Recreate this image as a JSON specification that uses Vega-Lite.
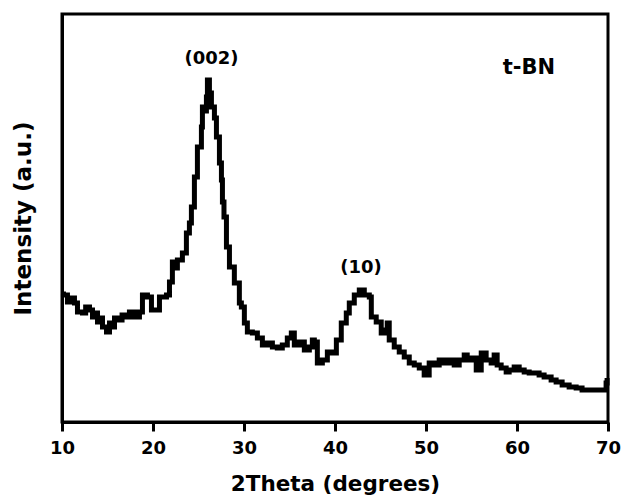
{
  "$schema": "https://vega.github.io/schema/vega-lite/v6.json",
  "autosize": "none",
  "width": 546,
  "height": 408,
  "padding": {"left": 62, "top": 14, "right": 15, "bottom": 74},
  "background": "white",
  "config": {
    "view": {"stroke": "black", "strokeWidth": 3},
    "font": "DejaVu Sans"
  },
  "datasets": {
    "xrd": [
      {"t": 10.0, "i": 128}, {"t": 10.16, "i": 127}, {"t": 10.6, "i": 120}, {"t": 11.0, "i": 124}, {"t": 11.37, "i": 119},
      {"t": 11.7, "i": 110}, {"t": 12.25, "i": 109}, {"t": 12.6, "i": 115}, {"t": 13.02, "i": 112},
      {"t": 13.35, "i": 105}, {"t": 13.6, "i": 109}, {"t": 13.9, "i": 100}, {"t": 14.2, "i": 104}, {"t": 14.45, "i": 95},
      {"t": 14.89, "i": 90}, {"t": 15.22, "i": 99}, {"t": 15.5, "i": 95}, {"t": 15.77, "i": 104}, {"t": 16.32, "i": 102},
      {"t": 16.6, "i": 107}, {"t": 16.87, "i": 105}, {"t": 17.41, "i": 110}, {"t": 17.96, "i": 105},
      {"t": 18.51, "i": 110}, {"t": 18.84, "i": 127}, {"t": 19.39, "i": 125}, {"t": 19.83, "i": 112},
      {"t": 20.38, "i": 112}, {"t": 20.71, "i": 125}, {"t": 21.48, "i": 127}, {"t": 21.81, "i": 140},
      {"t": 22.13, "i": 160}, {"t": 22.4, "i": 154}, {"t": 22.68, "i": 162}, {"t": 23.23, "i": 169},
      {"t": 23.67, "i": 189}, {"t": 24.0, "i": 199}, {"t": 24.22, "i": 215}, {"t": 24.55, "i": 245},
      {"t": 24.88, "i": 275}, {"t": 25.32, "i": 295}, {"t": 25.43, "i": 315}, {"t": 25.6, "i": 311},
      {"t": 25.87, "i": 325}, {"t": 25.98, "i": 342}, {"t": 26.2, "i": 329}, {"t": 26.42, "i": 315},
      {"t": 26.75, "i": 304}, {"t": 26.97, "i": 285}, {"t": 27.3, "i": 259}, {"t": 27.52, "i": 242},
      {"t": 27.63, "i": 220}, {"t": 27.8, "i": 205}, {"t": 28.07, "i": 175}, {"t": 28.4, "i": 155},
      {"t": 28.94, "i": 139}, {"t": 29.49, "i": 119}, {"t": 29.71, "i": 115}, {"t": 30.04, "i": 99},
      {"t": 30.37, "i": 90}, {"t": 30.92, "i": 89}, {"t": 31.47, "i": 84}, {"t": 32.02, "i": 77},
      {"t": 32.57, "i": 79}, {"t": 33.12, "i": 75}, {"t": 33.66, "i": 74}, {"t": 34.21, "i": 77},
      {"t": 34.76, "i": 84}, {"t": 35.2, "i": 89}, {"t": 35.53, "i": 77}, {"t": 36.08, "i": 80},
      {"t": 36.63, "i": 72}, {"t": 37.18, "i": 75}, {"t": 37.51, "i": 82}, {"t": 37.73, "i": 80},
      {"t": 38.06, "i": 59}, {"t": 38.61, "i": 62}, {"t": 39.16, "i": 70}, {"t": 39.71, "i": 69},
      {"t": 40.15, "i": 82}, {"t": 40.69, "i": 99}, {"t": 41.24, "i": 109}, {"t": 41.57, "i": 119},
      {"t": 42.12, "i": 127}, {"t": 42.67, "i": 132}, {"t": 43.22, "i": 127}, {"t": 43.77, "i": 125},
      {"t": 43.99, "i": 105}, {"t": 44.53, "i": 100}, {"t": 45.08, "i": 89}, {"t": 45.5, "i": 92},
      {"t": 45.74, "i": 99}, {"t": 45.96, "i": 82}, {"t": 46.51, "i": 75}, {"t": 47.06, "i": 70},
      {"t": 47.61, "i": 65}, {"t": 48.16, "i": 59}, {"t": 48.71, "i": 57}, {"t": 49.26, "i": 54},
      {"t": 49.8, "i": 47}, {"t": 50.35, "i": 59}, {"t": 50.9, "i": 57}, {"t": 51.45, "i": 62},
      {"t": 52.0, "i": 59}, {"t": 52.55, "i": 62}, {"t": 53.1, "i": 57}, {"t": 53.65, "i": 62},
      {"t": 54.2, "i": 67}, {"t": 54.53, "i": 62}, {"t": 55.08, "i": 64}, {"t": 55.52, "i": 52},
      {"t": 56.07, "i": 69}, {"t": 56.61, "i": 62}, {"t": 57.16, "i": 59}, {"t": 57.49, "i": 67},
      {"t": 57.82, "i": 57}, {"t": 58.26, "i": 54}, {"t": 58.81, "i": 50}, {"t": 59.14, "i": 52},
      {"t": 59.69, "i": 55}, {"t": 60.24, "i": 52}, {"t": 60.79, "i": 50}, {"t": 61.34, "i": 49},
      {"t": 61.88, "i": 49}, {"t": 62.43, "i": 47}, {"t": 62.98, "i": 45}, {"t": 63.75, "i": 42},
      {"t": 64.3, "i": 40}, {"t": 64.96, "i": 37}, {"t": 65.73, "i": 35}, {"t": 66.5, "i": 34},
      {"t": 67.15, "i": 32}, {"t": 67.92, "i": 32}, {"t": 68.69, "i": 32}, {"t": 69.35, "i": 32},
      {"t": 69.79, "i": 39}, {"t": 69.9, "i": 44}
    ],
    "labels": [
      {"t": 26.43, "i": 363, "label": "(002)", "s": 18},
      {"t": 42.85, "i": 154, "label": "(10)", "s": 18},
      {"t": 61.3, "i": 354, "label": "t-BN", "s": 21}
    ]
  },
  "layer": [
    {
      "data": {"name": "xrd"},
      "mark": {"type": "line", "color": "black", "strokeWidth": 5, "strokeJoin": "miter", "interpolate": "step-after"},
      "encoding": {
        "x": {
          "field": "t", "type": "quantitative",
          "scale": {"domain": [10, 70], "nice": false, "zero": false},
          "axis": {
            "title": "2Theta (degrees)", "values": [10, 20, 30, 40, 50, 60, 70],
            "grid": false, "domainColor": "black", "domainWidth": 3,
            "tickColor": "black", "tickWidth": 3, "tickSize": 9,
            "labelFont": "DejaVu Sans", "labelFontWeight": "bold", "labelFontSize": 18,
            "labelColor": "black", "labelPadding": 8, "labelFlush": false,
            "titleFont": "DejaVu Sans", "titleFontWeight": "bold", "titleFontSize": 21.5,
            "titleColor": "black", "titlePadding": 16
          }
        },
        "y": {
          "field": "i", "type": "quantitative",
          "scale": {"domain": [0, 408], "nice": false},
          "axis": {
            "title": "Intensity (a.u.)", "labels": false, "ticks": false, "grid": false,
            "domainColor": "black", "domainWidth": 3,
            "titleFont": "DejaVu Sans", "titleFontWeight": "bold", "titleFontSize": 23,
            "titleColor": "black", "titlePadding": 27
          }
        }
      }
    },
    {
      "data": {"name": "labels"},
      "mark": {"type": "text", "font": "DejaVu Sans", "fontWeight": "bold", "color": "black", "baseline": "middle", "align": "center"},
      "encoding": {
        "x": {"field": "t", "type": "quantitative"},
        "y": {"field": "i", "type": "quantitative"},
        "text": {"field": "label"},
        "size": {"field": "s", "type": "quantitative", "scale": null, "legend": null}
      }
    }
  ]
}
